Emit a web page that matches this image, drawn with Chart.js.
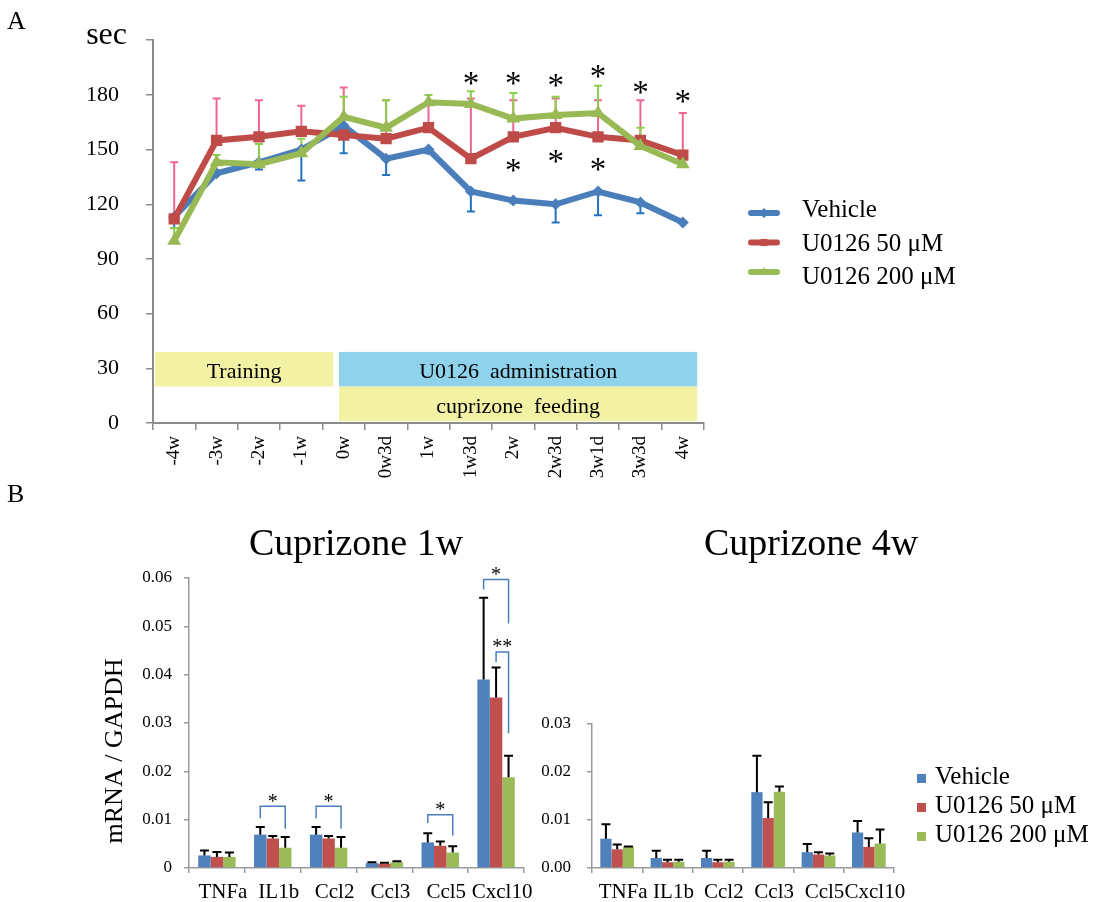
<!DOCTYPE html>
<html>
<head>
<meta charset="utf-8">
<title>U0126 rotarod and mRNA</title>
<script src="https://cdn.jsdelivr.net/npm/chart.js@4.4.1/dist/chart.umd.min.js"></script>
<style>
  body { margin: 0; background: #fff; }
  #wrap { position: relative; width: 1097px; height: 902px; }
  #wrap canvas { position: absolute; left: 0; top: 0; }
</style>
</head>
<body>
<div id="wrap">
  <canvas id="rotarod" width="1097" height="902"></canvas>
  <canvas id="mrna1w" width="1097" height="902"></canvas>
  <canvas id="mrna4w" width="1097" height="902"></canvas>
</div>
<script>
// ---- A: rotarod time (sec) ----
const timeLabels = ['-4w', '-3w', '-2w', '-1w', '0w', '0w3d', '1w', '1w3d', '2w', '2w3d', '3w1d', '3w3d', '4w'];
const seriesNames = ['Vehicle', 'U0126 50 \u03bcM', 'U0126 200 \u03bcM'];
const vehicleSec = [113, 137, 143, 150, 163, 145, 150, 127, 122, 120, 127, 121, 110];
const vehicleLow = [107, null, 139, 133, 148, 136, 148, 116, 121, 110, 114, 115, null];
const u50Sec = [112, 155, 157, 160, 158, 156, 162, 145, 157, 162, 157, 155, 147];
const u50High = [143, 178, 177, 174, 184, 177, 175, 178, 177, 178, 177, 177, 170];
const u200Sec = [100, 143, 142, 148, 168, 162, 176, 175, 167, 169, 170, 152, 142];
const u200High = [107, 147, 153, 156, 179, 177, 180, 182, 181, 179, 185, 162, null];
const secTicks = [0, 30, 60, 90, 120, 150, 180, 210];
const secUnit = 'sec';
const starsAboveAt = ['1w3d', '2w', '2w3d', '3w1d', '3w3d', '4w'];
const starsAboveSec = [189, 189, 188, 193, 184, 179];
const starsBelowAt = ['2w', '2w3d', '3w1d'];
const starsBelowSec = [141, 146, 142];

// ---- B: mRNA / GAPDH ----
const genes = ['TNFa', 'IL1b', 'Ccl2', 'Ccl3', 'Ccl5', 'Cxcl10'];
const veh1w = [0.0026, 0.0069, 0.0069, 0.0010, 0.0053, 0.0390];
const veh1wErr = [0.0036, 0.0085, 0.0085, 0.0012, 0.0072, 0.0559];
const u50_1w = [0.0023, 0.0061, 0.0061, 0.0009, 0.0046, 0.0353];
const u50_1wErr = [0.0033, 0.0066, 0.0066, 0.0011, 0.0055, 0.0415];
const u200_1w = [0.0023, 0.0042, 0.0042, 0.0012, 0.0032, 0.0188];
const u200_1wErr = [0.0032, 0.0064, 0.0064, 0.0014, 0.0045, 0.0232];
const veh4w = [0.0061, 0.0021, 0.0021, 0.0158, 0.0033, 0.0074];
const veh4wErr = [0.0091, 0.0036, 0.0036, 0.0234, 0.0050, 0.0098];
const u50_4w = [0.0039, 0.0012, 0.0012, 0.0104, 0.0028, 0.0044];
const u50_4wErr = [0.0049, 0.0017, 0.0017, 0.0137, 0.0033, 0.0062];
const u200_4w = [0.0044, 0.0013, 0.0013, 0.0159, 0.0026, 0.0051];
const u200_4wErr = [0.0045, 0.0017, 0.0017, 0.0170, 0.0030, 0.0080];
const ticks1w = [0, 0.01, 0.02, 0.03, 0.04, 0.05, 0.06];
const ticks4w = [0, 0.01, 0.02, 0.03];
// significance brackets: gene, from series, to series, top, left end, right end
const sig1w = [
  { gene: 'IL1b', from: 0, to: 2, top: 0.0128, left: 0.0103, right: 0.0081, mark: '*' },
  { gene: 'Ccl2', from: 0, to: 2, top: 0.0128, left: 0.0103, right: 0.0081, mark: '*' },
  { gene: 'Ccl5', from: 0, to: 2, top: 0.0110, left: 0.0093, right: 0.0067, mark: '*' },
  { gene: 'Cxcl10', from: 0, to: 2, top: 0.0597, left: 0.0576, right: 0.0506, mark: '*' },
  { gene: 'Cxcl10', from: 1, to: 2, top: 0.0447, left: 0.0426, right: 0.0279, mark: '**' }
];

const FONT = '"Liberation Serif", "Times New Roman", serif';
Chart.defaults.font.family = FONT;
Chart.defaults.color = '#000';

const blue = '#4A7EBB', red = '#BE4B48', green = '#98B954';
const barBlue = '#4F81BD', barRed = '#C0504D', barGreen = '#9BBB59';

function text(ctx, str, x, y, size, align, baseline) {
  ctx.save();
  ctx.font = size + 'px ' + FONT;
  ctx.fillStyle = '#000';
  ctx.textAlign = align || 'left';
  ctx.textBaseline = baseline || 'alphabetic';
  ctx.fillText(str, x, y);
  ctx.restore();
}

// asterisk centred on (x, y)
function star(ctx, str, x, y, size) {
  text(ctx, str, x, y + size * 0.47, size, 'center');
}

function drawErrorBars(chart) {
  const ctx = chart.ctx, y = chart.scales.y;
  chart.data.datasets.forEach((ds, i) => {
    const meta = chart.getDatasetMeta(i);
    ctx.save();
    ctx.strokeStyle = ds.errColor;
    ctx.lineWidth = ds.errWidth;
    ds.errEnd.forEach((end, j) => {
      if (end == null) return;
      const px = meta.data[j].x;
      const p0 = y.getPixelForValue(ds.data[j]);
      const p1 = y.getPixelForValue(end);
      ctx.beginPath();
      ctx.moveTo(px, p0);
      ctx.lineTo(px, p1);
      ctx.moveTo(px - ds.errCap, p1);
      ctx.lineTo(px + ds.errCap, p1);
      ctx.stroke();
    });
    ctx.restore();
  });
}

const errorBars = {
  id: 'errorBars',
  beforeDatasetsDraw(chart, args, opts) { if (opts.behind) drawErrorBars(chart); },
  afterDatasetsDraw(chart, args, opts) { if (!opts.behind) drawErrorBars(chart); }
};

// ---------- A ----------
const phaseBoxes = [
  { label: 'Training', from: -0.45, to: 3.75, low: 20, high: 39, color: '#F3F1A4' },
  { label: 'U0126  administration', from: 3.89, to: 12.34, low: 20, high: 39, color: '#8ED2EC' },
  { label: 'cuprizone  feeding', from: 3.89, to: 12.34, low: 1, high: 20, color: '#F3F1A4' }
];

const rotarodExtras = {
  id: 'rotarodExtras',
  beforeDatasetsDraw(chart) {
    const { ctx, scales: { x, y } } = chart;
    phaseBoxes.forEach(b => {
      const x0 = x.getPixelForValue(b.from), x1 = x.getPixelForValue(b.to);
      const y0 = y.getPixelForValue(b.high), y1 = y.getPixelForValue(b.low);
      ctx.fillStyle = b.color;
      ctx.fillRect(x0, y0, x1 - x0, y1 - y0);
      text(ctx, b.label, (x0 + x1) / 2, (y0 + y1) / 2 + 3, 22, 'center', 'middle');
    });
  },
  afterDraw(chart) {
    const { ctx, scales: { x, y } } = chart;
    starsAboveAt.forEach((t, i) => star(ctx, '*', x.getPixelForValue(timeLabels.indexOf(t)), y.getPixelForValue(starsAboveSec[i]), 33));
    starsBelowAt.forEach((t, i) => star(ctx, '*', x.getPixelForValue(timeLabels.indexOf(t)), y.getPixelForValue(starsBelowSec[i]), 33));
    text(ctx, secUnit, 127, y.getPixelForValue(secTicks[secTicks.length - 1]) + 4, 32, 'right');
    text(ctx, 'A', 7, 29, 26);
    text(ctx, 'B', 7, 502, 26);
    // legend
    chart.data.datasets.forEach((ds, i) => {
      const ly = 213 + i * 29.5;
      ctx.save();
      ctx.strokeStyle = ds.borderColor;
      ctx.lineWidth = 6;
      ctx.lineCap = 'round';
      ctx.beginPath();
      ctx.moveTo(751, ly);
      ctx.lineTo(777, ly);
      ctx.stroke();
      ctx.fillStyle = ds.borderColor;
      Chart.helpers.drawPoint(ctx, { pointStyle: ds.pointStyle, radius: 5, rotation: 0, borderWidth: 0 }, 764, ly);
      ctx.restore();
      text(ctx, ds.label, 802, 217 + i * 33.5, 25);
    });
  }
};

const axisGray = '#8c8c8c';

new Chart(document.getElementById('rotarod'), {
  type: 'line',
  data: {
    labels: timeLabels,
    datasets: [
      { label: seriesNames[0], data: vehicleSec, errEnd: vehicleLow, errColor: '#2473C2',
        borderColor: blue, backgroundColor: blue, pointStyle: 'rectRot', pointRadius: 6, order: 3 },
      { label: seriesNames[1], data: u50Sec, errEnd: u50High, errColor: '#F0668F',
        borderColor: red, backgroundColor: red, pointStyle: 'rect', pointRadius: 8, order: 2 },
      { label: seriesNames[2], data: u200Sec, errEnd: u200High, errColor: '#8CCF4D',
        borderColor: green, backgroundColor: green, pointStyle: 'triangle', pointRadius: 8, order: 1 }
    ].map(ds => Object.assign(ds, { borderWidth: 6, pointBorderWidth: 0, tension: 0, errCap: 4, errWidth: 2 }))
  },
  options: {
    responsive: false,
    animation: false,
    layout: { padding: { left: 0, right: 393, top: 39, bottom: 402 } },
    plugins: { legend: { display: false }, tooltip: { enabled: false }, errorBars: { behind: true } },
    scales: {
      x: {
        offset: true,
        grid: { offset: true, drawOnChartArea: false, tickLength: 7, color: axisGray, lineWidth: 1.5 },
        border: { color: axisGray, width: 2 },
        ticks: { minRotation: 90, maxRotation: 90, autoSkip: false, padding: 6, font: { size: 19 } },
        afterFit: s => { s.height = 77; }
      },
      y: {
        min: 0, max: 210,
        afterBuildTicks: s => { s.ticks = secTicks.map(v => ({ value: v })); },
        grid: { drawOnChartArea: false, tickLength: 7, color: axisGray, lineWidth: 1.5 },
        border: { color: axisGray, width: 2 },
        ticks: { padding: 27, font: { size: 22 }, callback: v => (v === 210 ? '' : v) },
        afterFit: s => { s.width = 153; }
      }
    }
  },
  plugins: [errorBars, rotarodExtras]
});

// ---------- B ----------
function mrnaChart(id, vals, errs, tickVals, fmt, box, brackets, title, titleX, legend) {
  const colors = [barBlue, barRed, barGreen];
  const extras = {
    id: 'mrnaExtras',
    afterDraw(chart) {
      const { ctx, scales: { y } } = chart;
      brackets.forEach(b => {
        const k = genes.indexOf(b.gene);
        const xa = chart.getDatasetMeta(b.from).data[k].x;
        const xb = chart.getDatasetMeta(b.to).data[k].x;
        const yt = y.getPixelForValue(b.top);
        ctx.save();
        ctx.strokeStyle = '#4A7EBB';
        ctx.lineWidth = 1.5;
        ctx.beginPath();
        ctx.moveTo(xa, y.getPixelForValue(b.left));
        ctx.lineTo(xa, yt);
        ctx.lineTo(xb, yt);
        ctx.lineTo(xb, y.getPixelForValue(b.right));
        ctx.stroke();
        ctx.restore();
        star(ctx, b.mark, (xa + xb) / 2, yt - 8, 20);
      });
      text(ctx, title, titleX, 555, 38, 'center');
      if (legend) {
        chart.data.datasets.forEach((ds, i) => {
          const ly = 778 + i * 29;
          ctx.fillStyle = ds.backgroundColor;
          ctx.fillRect(917, ly - 4, 9, 9);
          text(ctx, ds.label, 935, ly + 6, 25);
        });
      } else {
        ctx.save();
        ctx.translate(115, 751);
        ctx.rotate(-Math.PI / 2);
        text(ctx, 'mRNA / GAPDH', 0, 0, 26, 'center', 'middle');
        ctx.restore();
      }
    }
  };
  const gray = '#9a9a9a';
  return new Chart(document.getElementById(id), {
    type: 'bar',
    data: {
      labels: genes,
      datasets: vals.map((v, i) => ({
        label: seriesNames[i], data: v, backgroundColor: colors[i], borderWidth: 0,
        errEnd: errs[i], errColor: '#000', errCap: 4.5, errWidth: 2,
        categoryPercentage: 0.67, barPercentage: 1
      }))
    },
    options: {
      responsive: false,
      animation: false,
      layout: { padding: { left: box.left - box.axisW, right: 1097 - box.right, top: box.top, bottom: 0 } },
      plugins: { legend: { display: false }, tooltip: { enabled: false }, errorBars: { behind: false } },
      scales: {
        x: {
          grid: { offset: true, drawOnChartArea: false, tickLength: 5, color: gray, lineWidth: 1.5 },
          border: { color: gray, width: 1.5 },
          ticks: { autoSkip: false, minRotation: 0, maxRotation: 0, padding: 7, labelOffset: 6, font: { size: 21 } },
          afterFit: s => { s.height = 34; }
        },
        y: {
          min: 0, max: tickVals[tickVals.length - 1],
          afterBuildTicks: s => { s.ticks = tickVals.map(v => ({ value: v })); },
          grid: { drawOnChartArea: false, tickLength: 5, color: gray, lineWidth: 1.5 },
          border: { color: gray, width: 1.5 },
          ticks: { padding: box.tickPad, font: { size: 17 }, callback: fmt },
          afterFit: s => { s.width = box.axisW; }
        }
      }
    },
    plugins: [errorBars, extras]
  });
}

mrnaChart('mrna1w', [veh1w, u50_1w, u200_1w], [veh1wErr, u50_1wErr, u200_1wErr], ticks1w,
  v => (v === 0 ? '0' : v.toFixed(2)),
  { left: 189, right: 524, top: 578, axisW: 189, tickPad: 12 }, sig1w, 'Cuprizone 1w', 356, false);

mrnaChart('mrna4w', [veh4w, u50_4w, u200_4w], [veh4wErr, u50_4wErr, u200_4wErr], ticks4w,
  v => v.toFixed(2),
  { left: 592, right: 894, top: 724, axisW: 80, tickPad: 16 }, [], 'Cuprizone 4w', 811, true);
</script>
</body>
</html>
